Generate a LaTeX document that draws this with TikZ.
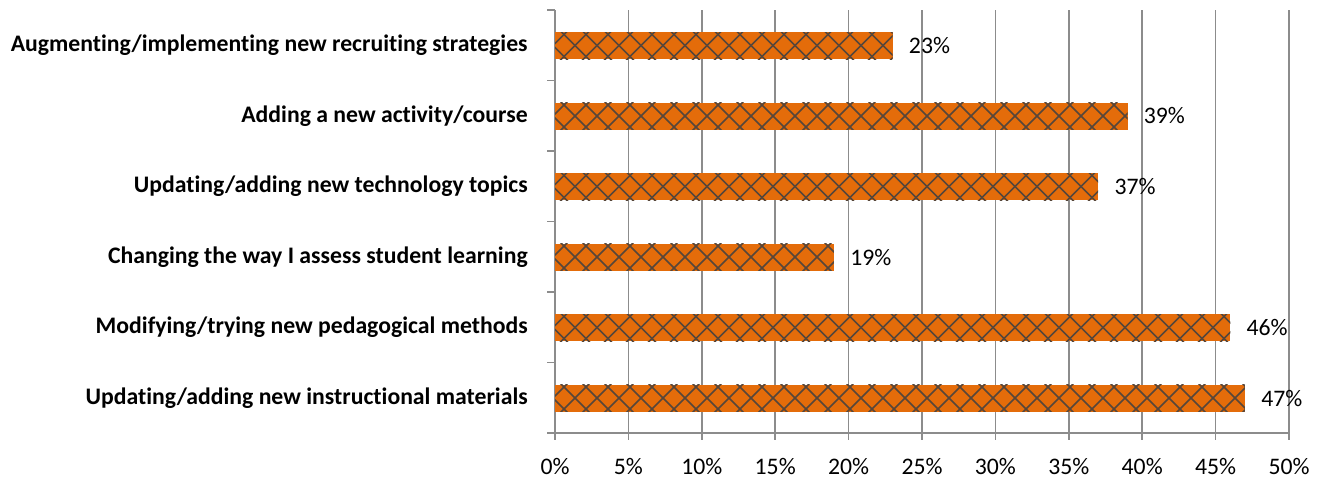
\documentclass[tikz,border=0pt]{standalone}
\usepackage{fontspec}
\setmainfont[Ligatures={NoCommon,NoContextual}]{Carlito}
\definecolor{barorange}{HTML}{E46C0A}
\definecolor{hatchgray}{HTML}{56463A}
\definecolor{gridgray}{HTML}{8C8C8C}
\begin{document}
\begin{tikzpicture}[x=0.02cm,y=-0.02cm,
  grid/.style={gridgray,line width=1pt},
  hatch/.style={hatchgray,line width=0.85pt},
  catlabel/.style={anchor=east,inner sep=0pt,font=\fontsize{13.5}{16}\selectfont\bfseries},
  vallabel/.style={anchor=west,inner sep=0pt,font=\fontsize{13.5}{16}\selectfont},
  ticklabel/.style={anchor=center,inner sep=0pt,font=\fontsize{13.5}{16}\selectfont}]
\useasboundingbox (0,0) rectangle (1323,478);
%%Gridlines and tick labels
\foreach \p in {0,5,...,50}{
  \draw[grid] ({555+\p*14.68},10) -- ({555+\p*14.68},440);
  \node[ticklabel] (tick\p) at ({555+\p*14.68},466) {\p\%};
}
%%Axes
\draw[grid] (555,10) -- (555,433);
\draw[grid] (547,433) -- (1289,433);
\foreach \i in {0,...,6}
  \draw[grid] (547,{10+\i*70.5}) -- (555,{10+\i*70.5});
%%Bars
\foreach \v/\t [count=\i from 0] in {
  23/{Augmenting/implementing new recruiting strategies},
  39/{Adding a new activity/course},
  37/{Updating/adding new technology topics},
  19/{Changing the way I assess student learning},
  46/{Modifying/trying new pedagogical methods},
  47/{Updating/adding new instructional materials}}{
  \pgfmathsetmacro\yc{45.5+\i*70.5}
  \pgfmathsetmacro\xe{555+\v*14.68}
  \fill[barorange] (555,\yc-13.5) rectangle (\xe,\yc+13.5);
  \begin{scope}
    \clip (555,\yc-13.5) rectangle (\xe,\yc+13.5);
    \foreach \k in {-1,...,34}{
      \draw[hatch] ({575+22*\k-16},\yc-16) -- ++(32,32);
      \draw[hatch] ({575+22*\k-16},\yc+16) -- ++(32,-32);
    }
  \end{scope}
  \node[catlabel] (cat\i) at (528,\yc) {\t};
  \node[vallabel] (val\i) at (\xe+16,\yc) {\v\%};
}
\end{tikzpicture}
\end{document}
